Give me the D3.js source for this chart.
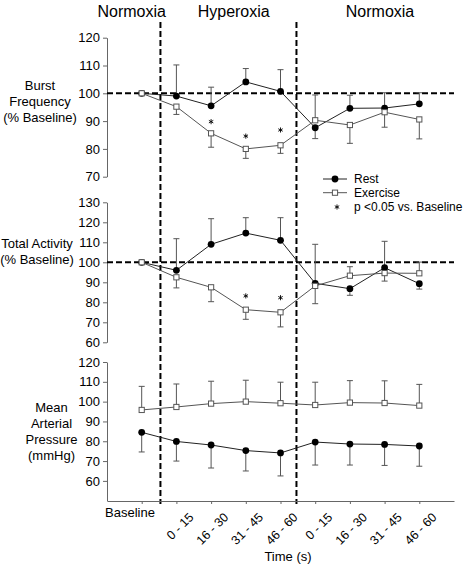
<!DOCTYPE html>
<html><head><meta charset="utf-8">
<script src="https://cdn.jsdelivr.net/npm/d3@7"></script>
<style>body{margin:0;background:#fff}svg{display:block;font-family:"Liberation Sans",Arial,sans-serif}</style>
</head><body><svg id="c" width="474" height="564"></svg>
<script>
// ---- data ----
const categories = ["Baseline","0 - 15","16 - 30","31 - 45","46 - 60","0 - 15","16 - 30","31 - 45","46 - 60"];
const phases = ["Normoxia","Hyperoxia","Normoxia"];
const phaseBoundaries = [0.54, 4.46];

const bfRest      = [100, 99.0, 95.5, 104.1, 100.7, 87.6, 94.6, 94.7, 96.2];
const bfRestErr   = [null, 110.2, 102.2, 108.9, 108.5, 83.7, 99.3, 100.2, 100.2];
const bfEx        = [100, 95.2, 85.6, 80.0, 81.3, 90.3, 88.6, 93.2, 90.6];
const bfExErr     = [null, 92.4, 80.6, 76.6, 78.4, 99.4, 82.0, 87.8, 83.6];
const bfStars     = [[2, 89.8], [3, 84.6], [4, 86.8]];
const bfTicks     = [70, 80, 90, 100, 110, 120];

const taRest      = [100, 96.0, 109.0, 114.6, 111.0, 89.5, 86.8, 97.3, 89.3];
const taRestErr   = [null, 111.8, 121.8, 122.3, 122.3, 109.0, 83.5, 110.5, 86.6];
const taEx        = [100, 92.5, 87.5, 76.3, 75.0, 88.2, 93.3, 94.6, 94.5];
const taExErr     = [null, 87.2, 80.3, 71.5, 67.7, 79.3, 97.8, 90.6, 100.1];
const taStars     = [[3, 83.2], [4, 82.3]];
const taTicks     = [60, 70, 80, 90, 100, 110, 120, 130];

const mapRest     = [84.5, 79.9, 78.1, 75.3, 74.1, 79.6, 78.6, 78.4, 77.6];
const mapRestErr  = [74.6, 70.0, 66.5, 65.0, 62.5, 68.0, 68.0, 67.8, 67.4];
const mapEx       = [95.8, 97.3, 99.0, 100.0, 99.2, 98.3, 99.5, 99.3, 98.0];
const mapExErr    = [107.7, 108.9, 110.3, 110.8, 109.8, 109.8, 110.6, 110.5, 108.7];
const mapTicks    = [60, 70, 80, 90, 100, 110, 120];

const legendLabels = ["Rest", "Exercise", "p <0.05 vs. Baseline"];

// ---- drawing ----
const svg = d3.select("#c");
const x = d3.scaleLinear().domain([-1, 9]).range([107, 454]);
const idx = d3.range(categories.length);
const star = d3.symbol().type(d3.symbolAsterisk).size(18);

const panels = [
  {y: d3.scaleLinear().domain([70,120]).range([176.7,37.7]), ticks: bfTicks, rest: bfRest, restErr: bfRestErr, ex: bfEx, exErr: bfExErr, stars: bfStars, ref: 100,
   label: ["Burst","Frequency","(% Baseline)"], lx: 40, ly: [89.7,106.4,122]},
  {y: d3.scaleLinear().domain([60,130]).range([342.3,202.3]), ticks: taTicks, rest: taRest, restErr: taRestErr, ex: taEx, exErr: taExErr, stars: taStars, ref: 100,
   label: ["Total Activity","(% Baseline)"], lx: 37, ly: [248,264]},
  {y: d3.scaleLinear().domain([50,120]).range([500.7,362]), ticks: mapTicks, rest: mapRest, restErr: mapRestErr, ex: mapEx, exErr: mapExErr, stars: [], ref: null,
   label: ["Mean","Arterial","Pressure","(mmHg)"], lx: 51.5, ly: [412.4,428,444,459.7]}
];

// vertical phase lines
phaseBoundaries.forEach(b => {
  svg.append("line").attr("x1", x(b)).attr("x2", x(b)).attr("y1", 22).attr("y2", 504)
    .attr("stroke", "#000").attr("stroke-width", 2).attr("stroke-dasharray", "6,3");
});

// phase headers
const headerX = [131.7, 233.7, 380];
phases.forEach((p, i) => {
  svg.append("text").attr("x", headerX[i]).attr("y", 16.5).attr("text-anchor", "middle")
    .attr("font-size", 16).attr("fill", "#000").text(p);
});

panels.forEach(P => {
  const y = P.y;
  const ax = svg.append("g").attr("transform", "translate(107,0)")
    .call(d3.axisLeft(y).tickValues(P.ticks).tickSize(4).tickSizeOuter(0).tickPadding(3));
  ax.select(".domain").attr("stroke", "#666");
  ax.selectAll(".tick line").attr("stroke", "#666");
  ax.selectAll("text").attr("font-size", 13).attr("fill", "#000").attr("font-family", "Liberation Sans, Arial, sans-serif");

  P.label.forEach((t, i) => {
    svg.append("text").attr("x", P.lx).attr("y", P.ly[i]).attr("text-anchor", "middle")
      .attr("font-size", 13).attr("fill", "#000").text(t);
  });

  if (P.ref !== null) {
    svg.append("line").attr("x1", x(-1)).attr("x2", x(9)).attr("y1", y(P.ref)).attr("y2", y(P.ref))
      .attr("stroke", "#000").attr("stroke-width", 2).attr("stroke-dasharray", "6,3");
  }

  const g = svg.append("g");
  // error bars
  [[P.rest, P.restErr], [P.ex, P.exErr]].forEach(([vals, errs]) => {
    idx.forEach(i => {
      if (errs[i] == null) return;
      g.append("line").attr("x1", x(i)).attr("x2", x(i)).attr("y1", y(vals[i])).attr("y2", y(errs[i]))
        .attr("stroke", "#555").attr("stroke-width", 1);
      g.append("line").attr("x1", x(i) - 3).attr("x2", x(i) + 3).attr("y1", y(errs[i])).attr("y2", y(errs[i]))
        .attr("stroke", "#555").attr("stroke-width", 1);
    });
  });
  const line = vals => d3.line().x(i => x(i)).y(i => y(vals[i]))(idx);
  g.append("path").attr("d", line(P.rest)).attr("fill", "none").attr("stroke", "#222").attr("stroke-width", 1);
  g.append("path").attr("d", line(P.ex)).attr("fill", "none").attr("stroke", "#555").attr("stroke-width", 1);
  g.selectAll(null).data(idx).enter().append("circle")
    .attr("cx", i => x(i)).attr("cy", i => y(P.rest[i])).attr("r", 3.4).attr("fill", "#000");
  g.selectAll(null).data(idx).enter().append("rect")
    .attr("x", i => x(i) - 2.6).attr("y", i => y(P.ex[i]) - 2.6).attr("width", 5.2).attr("height", 5.2)
    .attr("fill", "#fff").attr("stroke", "#555").attr("stroke-width", 1);
  P.stars.forEach(([i, v]) => {
    g.append("path").attr("d", star).attr("transform", `translate(${x(i)},${y(v)})`)
      .attr("fill", "none").attr("stroke", "#000").attr("stroke-width", 0.9);
  });
});

// x axis
const xa = svg.append("g").attr("transform", "translate(0,501)")
  .call(d3.axisBottom(x).tickValues(idx).tickSize(3).tickSizeOuter(0).tickFormat(""));
xa.select(".domain").attr("stroke", "#666");
xa.selectAll(".tick line").attr("stroke", "#666");

svg.append("text").attr("x", 130).attr("y", 516.5).attr("text-anchor", "middle")
  .attr("font-size", 13).attr("fill", "#000").text(categories[0]);
idx.slice(1).forEach(i => {
  svg.append("text").attr("transform", `translate(${x(i) + 18},518) rotate(-45)`)
    .attr("text-anchor", "end").attr("font-size", 12.5).attr("fill", "#000").text(categories[i]);
});
svg.append("text").attr("x", 288).attr("y", 561).attr("text-anchor", "middle")
  .attr("font-size", 13).attr("fill", "#000").text("Time (s)");

// legend
const lg = svg.append("g");
lg.append("line").attr("x1", 323).attr("x2", 347).attr("y1", 179).attr("y2", 179).attr("stroke", "#222");
lg.append("circle").attr("cx", 335).attr("cy", 179).attr("r", 3.4).attr("fill", "#000");
lg.append("line").attr("x1", 323).attr("x2", 347).attr("y1", 192.7).attr("y2", 192.7).attr("stroke", "#555");
lg.append("rect").attr("x", 332.4).attr("y", 190.1).attr("width", 5.2).attr("height", 5.2).attr("fill", "#fff").attr("stroke", "#555");
lg.append("path").attr("d", star).attr("transform", "translate(337,207)")
  .attr("fill", "none").attr("stroke", "#000").attr("stroke-width", 0.9);
[179, 192.7, 206.4].forEach((yy, i) => {
  lg.append("text").attr("x", 354).attr("y", yy + 4.3).attr("font-size", 12).attr("fill", "#000").text(legendLabels[i]);
});
</script></body></html>
